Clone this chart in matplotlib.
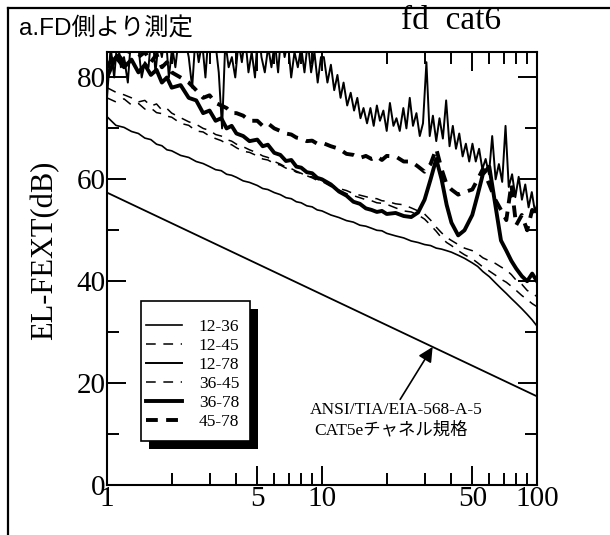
import matplotlib
matplotlib.use("Agg")
import matplotlib.pyplot as plt
from matplotlib.lines import Line2D
from matplotlib.patches import Rectangle
from matplotlib.ticker import FixedLocator, NullFormatter

plt.rcParams['lines.scale_dashes'] = False

# --- 測定データ (MHz / dB) ---
freq = [1.0, 1.1, 1.2, 1.3, 1.4, 1.5, 1.6, 1.7, 1.8, 1.9,
        2.0, 2.2, 2.4, 2.6, 2.8, 3.0, 3.2, 3.4, 3.6, 3.8,
        4.0, 4.3, 4.6, 5.0, 5.3, 5.6, 6.0, 6.4, 6.8, 7.2,
        7.6, 8.0, 8.5, 9.0, 9.5, 10, 11, 12, 13, 14,
        15, 16, 17, 18, 19, 20, 22, 24, 26, 28,
        30, 32, 34, 36, 38, 40, 43, 46, 50, 53,
        56, 60, 64, 68, 72, 76, 80, 85, 90, 95, 100]

# 12-78 は細かい掃引点で記録
freq_fine = [1.00, 1.04, 1.08, 1.12, 1.16, 1.20, 1.25, 1.30, 1.35, 1.40,
             1.45, 1.50, 1.56, 1.62, 1.68, 1.74, 1.80, 1.87, 1.94, 2.01,
             2.08, 2.16, 2.24, 2.32, 2.40, 2.49, 2.58, 2.67, 2.77, 2.87,
             2.97, 3.08, 3.19, 3.31, 3.43, 3.55, 3.68, 3.81, 3.95, 4.09,
             4.24, 4.39, 4.55, 4.71, 4.88, 5.05, 5.23, 5.42, 5.62, 5.82,
             6.03, 6.25, 6.47, 6.70, 6.94, 7.19, 7.45, 7.72, 8.00, 8.29,
             8.59, 8.90, 9.22, 9.55, 9.89, 10.2, 10.6, 11.0, 11.4, 11.8,
             12.2, 12.6, 13.1, 13.6, 14.1, 14.6, 15.1, 15.6, 16.2, 16.8,
             17.4, 18.0, 18.6, 19.3, 20.0, 20.7, 21.5, 22.2, 23.0, 23.9,
             24.7, 25.6, 26.5, 27.5, 28.5, 29.5, 30.6, 31.7, 32.8, 34.0,
             35.2, 36.5, 37.8, 39.2, 40.6, 42.0, 43.5, 45.1, 46.7, 48.4,
             50.1, 51.9, 53.8, 55.7, 57.7, 59.8, 61.9, 64.2, 66.5, 68.9,
             71.4, 73.9, 76.6, 79.3, 82.2, 85.1, 88.2, 91.4, 94.6, 98.0, 100]

pair_12_36 = [72.3, 70.6, 70.2, 69.4, 69.0, 68.1, 67.8, 66.9, 66.6, 65.8,
              65.6, 64.7, 64.3, 63.5, 63.1, 62.5, 61.9, 61.7, 61.0, 60.8,
              60.4, 59.7, 59.4, 58.8, 58.2, 58.0, 57.4, 57.0, 56.4, 56.2,
              55.6, 55.4, 54.8, 54.6, 54.0, 53.8, 53.0, 52.5, 51.9, 51.6,
              51.0, 50.8, 50.4, 50.0, 49.9, 49.4, 48.9, 48.5, 47.9, 47.6,
              47.2, 47.0, 46.5, 46.3, 46.0, 45.7, 45.1, 44.5, 43.6, 42.9,
              41.9, 40.9, 39.7, 38.6, 37.6, 36.6, 35.7, 34.6, 33.5, 32.4, 31.2]

pair_12_45 = [76.0, 75.2, 75.8, 74.6, 74.9, 73.8, 74.0, 73.1, 72.9, 72.4,
              72.2, 71.0, 70.6, 69.5, 69.3, 68.5, 68.0, 67.6, 67.0, 66.8,
              66.2, 65.5, 65.3, 64.6, 64.0, 63.8, 63.1, 62.8, 62.2, 62.0,
              61.4, 61.2, 60.6, 60.5, 60.0, 59.8, 58.9, 58.2, 57.8, 57.2,
              56.9, 56.6, 56.3, 56.2, 55.8, 55.7, 55.2, 55.0, 54.4, 53.8,
              53.2, 52.0, 50.6, 49.5, 48.6, 48.0, 47.2, 46.5, 46.0, 45.4,
              44.6, 44.0, 43.5, 42.8, 42.2, 41.3, 40.2, 39.4, 38.2, 37.6, 37.0]

pair_12_78 = [76, 86, 80, 88, 82, 84, 79, 89, 85, 86,
              80, 83, 82, 90, 81, 87, 84, 89, 80, 86,
              82, 88, 85, 87, 84, 78, 88, 83, 87, 80,
              89, 85, 87, 81, 70, 87, 82, 84, 80, 87,
              83, 88, 81, 85, 80, 90, 84, 81, 86, 82,
              87, 81, 89, 84, 87, 80, 85, 82, 86, 81,
              87, 81, 85, 79, 84, 84, 79, 82.5, 77.5, 80.5,
              76, 79, 74.5, 77, 73.5, 76, 72, 74, 71, 74,
              70.5, 74.5, 71.5, 73.5, 69.5, 75, 70.5, 72, 69.5, 74,
              70, 76, 70.5, 73, 68.5, 71, 83, 68.5, 72.5, 67.5,
              72, 68, 75.5, 66.5, 70.5, 66, 69, 64.5, 67, 63.5,
              67, 63.5, 66, 62, 64, 61, 68.5, 60, 63, 59.5,
              70.5, 58.5, 61, 56.5, 60.5, 56, 59, 54.5, 57.5, 53.5, 55]

pair_36_45 = [78.0, 77.1, 76.6, 76.0, 75.2, 75.5, 74.4, 74.8, 73.6, 73.9,
              73.0, 72.1, 71.3, 70.8, 70.0, 69.6, 68.8, 68.5, 67.8, 67.5,
              66.9, 66.4, 65.8, 65.2, 64.6, 64.3, 63.5, 63.0, 62.4, 62.1,
              61.6, 61.2, 60.7, 60.3, 59.8, 59.6, 58.6, 57.9, 57.2, 56.8,
              56.4, 56.0, 55.8, 55.4, 55.3, 55.1, 54.4, 53.8, 53.6, 53.0,
              52.2, 51.0, 49.8, 48.5, 47.6, 47.0, 46.0, 45.2, 44.4, 43.6,
              42.8, 42.0, 41.2, 40.4, 39.8, 39.0, 38.2, 37.2, 36.4, 35.6, 35.0]

pair_36_78 = [80, 84, 82, 83.5, 81, 82.5, 80.5, 81.5, 79, 80,
              78, 78.5, 76, 75.5, 73, 73.5, 71.5, 72, 70, 70.5,
              69, 68.5, 67.5, 67.8, 66.5, 66.8, 65.2, 64.8, 63.6, 63.8,
              62.5, 62.3, 61.4, 61.2, 60.3, 60.0, 59, 57.6, 56.8, 55.6,
              55.2, 54.3, 54.0, 53.6, 53.8, 53.2, 53.4, 52.8, 52.6, 53.5,
              56, 60, 64, 60, 55, 51.5, 49, 50, 53, 57,
              61, 62.5, 55, 48, 46, 44, 42.5, 41, 40, 41.5, 40]

pair_45_78 = [82, 85, 83, 86, 84, 85, 83, 84.5, 82, 83,
              81, 80, 79, 77.5, 76, 76.5, 75, 74.5, 74, 73,
              73, 72.5, 71.5, 71.5, 70.5, 71, 70, 69.5, 69, 68.8,
              68.2, 68, 67.5, 67.6, 67, 67.2, 66.5, 66, 65, 64.8,
              64.2, 64.6, 64, 64.5, 63.8, 64.6, 64.5, 63.5, 63.5, 62.5,
              61.5, 63, 66, 62, 59, 58, 57, 57.5, 58, 60,
              62, 59, 56, 54, 52, 59, 51, 53, 50, 54, 52]

# ANSI/TIA/EIA-568-A-5 CAT5e チャネル規格 (両端点)
limit_freq = [1, 100]
limit_db = [57.4, 17.4]

pair_labels = ["12-36", "12-45", "12-78", "36-45", "36-78", "45-78"]
pair_freqs = [freq, freq, freq_fine, freq, freq, freq]
pair_data = [pair_12_36, pair_12_45, pair_12_78, pair_36_45, pair_36_78, pair_45_78]
pair_styles = [
    dict(lw=1.2, ls='-'),
    dict(lw=1.1, ls=(0, (7, 5.5))),
    dict(lw=1.4, ls='-'),
    dict(lw=1.1, ls=(0, (7, 5.5))),
    dict(lw=2.8, ls='-'),
    dict(lw=2.8, ls=(0, (8.5, 6))),
]

serif = ['Liberation Serif', 'Noto Sans CJK JP']
sans = ['Liberation Sans', 'Noto Sans CJK JP']

fig = plt.figure(figsize=(6.1, 5.35), dpi=100)
ax = fig.add_axes([0.1754, 0.0935, 0.7049, 0.8093])

for label, fx, vals, st in zip(pair_labels, pair_freqs, pair_data, pair_styles):
    ax.plot(fx, vals, color='black', label=label, **st)

ax.plot(limit_freq, limit_db, color='black', lw=1.3)

ax.set_xscale('log')
ax.set_xlim(1, 100)
ax.set_ylim(0, 85)

ax.xaxis.set_major_locator(FixedLocator([1, 5, 10, 50, 100]))
ax.xaxis.set_minor_locator(FixedLocator([2, 3, 4, 6, 7, 8, 9, 20, 30, 40, 60, 70, 80, 90]))
ax.xaxis.set_minor_formatter(NullFormatter())
ax.set_xticklabels(["1", "5", "10", "50", "100"])
ax.set_yticks([0, 20, 40, 60, 80])
ax.set_yticks([10, 30, 50, 70], minor=True)

ax.tick_params(which='both', direction='in', top=True, right=True, width=1.4,
               labelsize=21, pad=1)
ax.tick_params(which='major', length=14)
ax.tick_params(which='minor', length=8.5)
for lab in ax.get_xticklabels() + ax.get_yticklabels():
    lab.set_family('Liberation Serif')
for sp in ax.spines.values():
    sp.set_linewidth(1.5)

fig.text(45 / 610, 1 - 250 / 535, "EL-FEXT(dB)", rotation=90, ha='center', va='center',
         fontsize=22, family='Liberation Serif')

# 規格線の注記
ax.annotate("", xy=(32.7, 27.1), xytext=(23.1, 16.8),
            arrowprops=dict(arrowstyle='-|>', color='black', lw=1.2,
                            mutation_scale=22, shrinkA=0, shrinkB=0))
ax.text(0.472, 0.173, "ANSI/TIA/EIA-568-A-5", transform=ax.transAxes, ha='left',
        va='center', fontsize=12.5, family=serif)
ax.text(0.481, 0.127, "CAT5eチャネル規格", transform=ax.transAxes, ha='left',
        va='center', fontsize=12.5, family=serif)

# 凡例: 枠と影は別に描く
box_x, box_y, box_w, box_h = 0.0791, 0.1016, 0.2535, 0.3233
ax.add_patch(Rectangle((box_x + 0.0186, box_y - 0.0185), box_w, box_h,
                       transform=ax.transAxes, facecolor='black', edgecolor='none',
                       zorder=5, clip_on=False))
ax.add_patch(Rectangle((box_x, box_y), box_w, box_h, transform=ax.transAxes,
                       facecolor='white', edgecolor='black', lw=1.2,
                       zorder=5.5, clip_on=False))
leg = ax.legend(loc='upper left', bbox_to_anchor=(0.0907, 0.383), borderaxespad=0,
                frameon=False, prop=dict(family='Liberation Serif', size=12.5),
                handlelength=2.05, handletextpad=1.0, labelspacing=0.16,
                borderpad=0)
leg.set_zorder(6)

# 外枠
fig.add_artist(Line2D([8 / 610, 8 / 610], [0, 1 - 8 / 535], transform=fig.transFigure,
                      color='black', lw=1.6))
fig.add_artist(Line2D([8 / 610, 1], [1 - 8 / 535, 1 - 8 / 535], transform=fig.transFigure,
                      color='black', lw=1.6))

fig.text(19 / 610, 1 - 29 / 535, "a.FD側より測定", ha='left', va='center',
         fontsize=17.5, family=sans)
fig.text(401 / 610, 1 - 21 / 535, "fd  cat6", ha='left', va='center',
         fontsize=24, family='Liberation Serif')

fig.savefig("out.png", dpi=100)
